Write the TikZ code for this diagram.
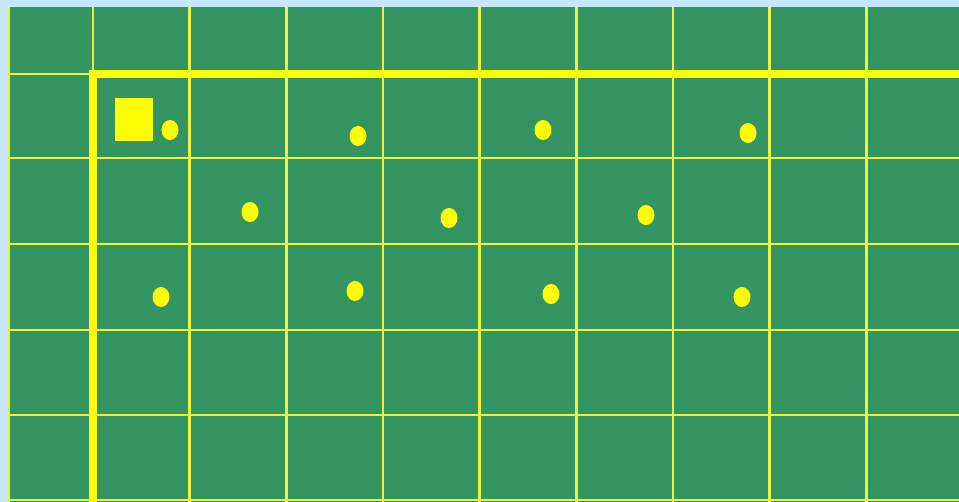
\documentclass[tikz,border=0pt]{standalone}
\definecolor{bgblue}{RGB}{198,230,250}
\definecolor{board}{RGB}{52,148,98}
\definecolor{ylw}{RGB}{255,255,0}
\definecolor{thinylw}{RGB}{235,245,60}
\tikzset{
  thinline/.style={draw=thinylw, line width=2.6pt},
  thickline/.style={draw=ylw, line width=8pt},
  dot/.style={ellipse, fill=ylw, minimum width=17pt, minimum height=20pt, inner sep=0pt},
  marker/.style={rectangle, fill=ylw, minimum width=38pt, minimum height=43pt, inner sep=0pt}
}
\usetikzlibrary{shapes.geometric}
\begin{document}
\begin{tikzpicture}[x=1pt,y=-1pt]
\useasboundingbox (0,0) rectangle (959,502);
\fill[bgblue] (0,0) rectangle (959,502);
\fill[board] (7,7) rectangle (959,502);
% thin grid lines
\foreach \x in {189.6,286.3,383,479.7,576.3,673,769.7,866.3}
  \draw[thinline] (\x,7) -- (\x,502);
\draw[thinline] (8.2,7) -- (8.2,502);
\foreach \y in {158,244,330,415,500}
  \draw[thinline] (7,\y) -- (959,\y);
\draw[thinline] (7,74) -- (93,74);
\draw[thinline] (93,7) -- (93,74);
% thick border lines
\draw[thickline] (93,502) -- (93,74) -- (959,74);
% marker square
\node[marker] (sq) at (134,119.5) {};
% dots
\node[dot] (d1) at (170,130) {};
\node[dot] (d2) at (358,136) {};
\node[dot] (d3) at (543,130) {};
\node[dot] (d4) at (748,133) {};
\node[dot] (d5) at (250,212) {};
\node[dot] (d6) at (449,218) {};
\node[dot] (d7) at (646,215) {};
\node[dot] (d8) at (161,297) {};
\node[dot] (d9) at (355,291) {};
\node[dot] (d10) at (551,294) {};
\node[dot] (d11) at (742,297) {};
\end{tikzpicture}
\end{document}
